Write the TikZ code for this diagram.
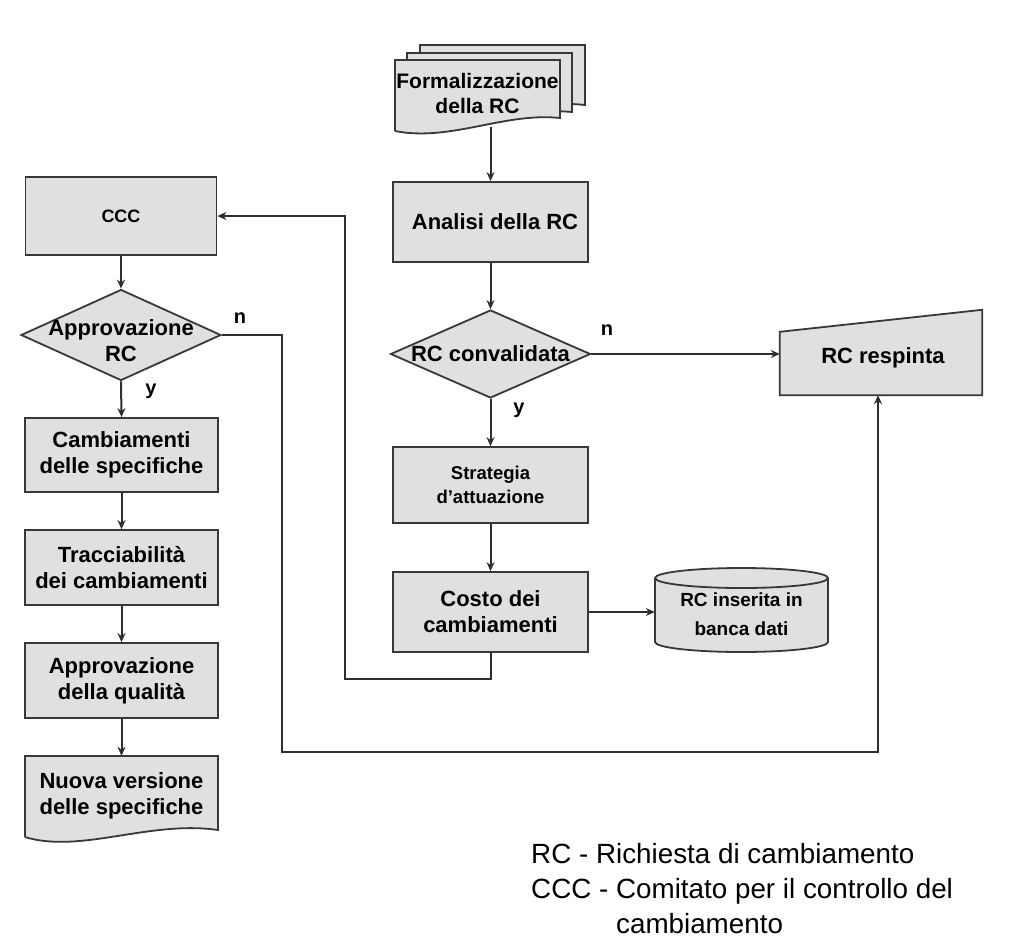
\documentclass[tikz,border=0pt]{standalone}
\usepackage{fontspec}
\setmainfont{Liberation Sans}
\usetikzlibrary{arrows.meta,shapes.geometric}
\tikzset{
  boxfill/.style={draw=black!78, fill=black!12, line width=1.8pt},
  rbox/.style={boxfill, rectangle, inner sep=0pt, align=center, font=\bfseries\fontsize{22}{26}\selectfont},
  plain/.style={rectangle, inner sep=0pt, align=center, font=\bfseries\fontsize{22}{26}\selectfont},
  diam/.style={boxfill, diamond, inner sep=0pt},
  arr/.style={draw=black!82, line width=2pt, -{Stealth[length=9pt,width=8pt]}},
  lbl/.style={font=\bfseries\fontsize{20}{24}\selectfont, inner sep=0pt},
  legend/.style={font=\fontsize{27.8}{35}\selectfont, align=left, inner sep=0pt, anchor=north west}
}
\begin{document}
\begin{tikzpicture}[x=1pt,y=-1pt]
\path[use as bounding box] (0,0) rectangle (1024,945);

% ---- stacked documents (Formalizzazione)
\draw[boxfill] (420,117) -- (420,45) -- (585,45) -- (585,105) .. controls (540,100) and (480,112) .. (420,117);
\draw[boxfill] (407,125) -- (407,53) -- (572,53) -- (572,112) .. controls (527,108) and (467,120) .. (407,125);
\draw[boxfill] (395,131) -- (395,60) -- (560,60) -- (560,118) .. controls (505,112) and (450,142) .. (395,131);
\node[plain, minimum width=165pt, minimum height=67pt, font=\bfseries\fontsize{21}{25}\selectfont] (formal) at (477.5,93.5) {Formalizzazione\\della RC};

% ---- main column
\node[boxfill, rectangle, minimum width=195pt, minimum height=80pt] (analisi) at (490.5,222) {};
\node[plain] (analisit) at (495,222) {Analisi della RC};
\node[diam, minimum width=200pt, minimum height=88pt] (d1) at (490.5,354) {};
\node[plain] (d1t) at (d1.center) {RC convalidata};
\node[rbox, minimum width=195pt, minimum height=76pt, font=\bfseries\fontsize{18.5}{24}\selectfont] (strat) at (490.5,485) {Strategia\\d'attuazione};
\node[rbox, minimum width=195pt, minimum height=80pt] (costo) at (490.5,612) {Costo dei\\cambiamenti};

% ---- cylinder
\node[rectangle, inner sep=0pt, minimum width=173pt, minimum height=84pt] (cyl) at (741.5,612) {};
\draw[boxfill] (655,578) -- (655,642) arc[start angle=180, end angle=360, x radius=86.5pt, y radius=10pt] -- (828,578);
\draw[boxfill] (741.5,578) ellipse [x radius=86.5pt, y radius=10pt];
\node[plain, font=\bfseries\fontsize{19}{29}\selectfont] (cylt) at (741.5,614) {RC inserita in\\banca dati};

% ---- RC respinta (manual input)
\node[rectangle, inner sep=0pt, minimum width=202pt, minimum height=85pt] (resp) at (881,352.5) {};
\draw[boxfill] (resp.south west) -- ([yshift=-22pt]resp.north west) -- (resp.north east) -- (resp.south east) -- cycle;
\node[plain] (respt) at (883,358) {RC respinta};

% ---- left column
\node[rbox, minimum width=191pt, minimum height=78pt, font=\bfseries\fontsize{18}{24}\selectfont] (ccc) at (121,216) {CCC};
\node[diam, minimum width=200pt, minimum height=91pt] (d2) at (121,335) {};
\node[plain] (d2t) at (121,341) {Approvazione\\RC};
\node[rbox, minimum width=193pt, minimum height=74pt] (cam) at (121.5,455) {Cambiamenti\\delle specifiche};
\node[rbox, minimum width=193pt, minimum height=75pt] (trac) at (121.5,567.5) {Tracciabilità\\dei cambiamenti};
\node[rbox, minimum width=193pt, minimum height=75pt] (appq) at (121.5,680.5) {Approvazione\\della qualità};
\draw[boxfill] (25,837) -- (25,756) -- (218,756) -- (218,830) .. controls (150,820) and (80,854) .. (25,837);
\node[plain, minimum width=193pt, minimum height=80pt] (nuova) at (121.5,796) {Nuova versione\\delle specifiche};

% ---- labels
\node[lbl] (n1) at (607,330) {n};
\node[lbl] (y1) at (519,410) {y};
\node[lbl] (n2) at (240,318) {n};
\node[lbl] (y2) at (151,391) {y};

% ---- coordinates
\coordinate (c1) at (282,752);
\coordinate (c2) at (345,679);

% ---- connectors
\draw[arr] (formal.south -| analisi.north) -- (analisi.north);
\draw[arr] (analisi.south) -- (d1.north);
\draw[arr] (d1.south) -- (strat.north);
\draw[arr] (strat) -- (costo);
\draw[arr] (costo.east) -- (cyl.west);
\draw[arr] (d1.east) -- (d1.east -| resp.west);
\draw[arr] (costo.south) |- (c2) |- (ccc.east);
\draw[arr] (ccc) -- (d2.north);
\draw[arr] (d2.south) -- (cam.north);
\draw[arr] (cam) -- (trac);
\draw[arr] (trac) -- (appq);
\draw[arr] (appq.south) -- (nuova.north);
\draw[arr] (d2.east) -| (c1) -| ([xshift=-3pt]resp.south);

% ---- legend
\node[legend] (leg) at (531,843) {RC - Richiesta di cambiamento\\CCC - Comitato per il controllo del\\\hphantom{CCC - }cambiamento};
\end{tikzpicture}
\end{document}
